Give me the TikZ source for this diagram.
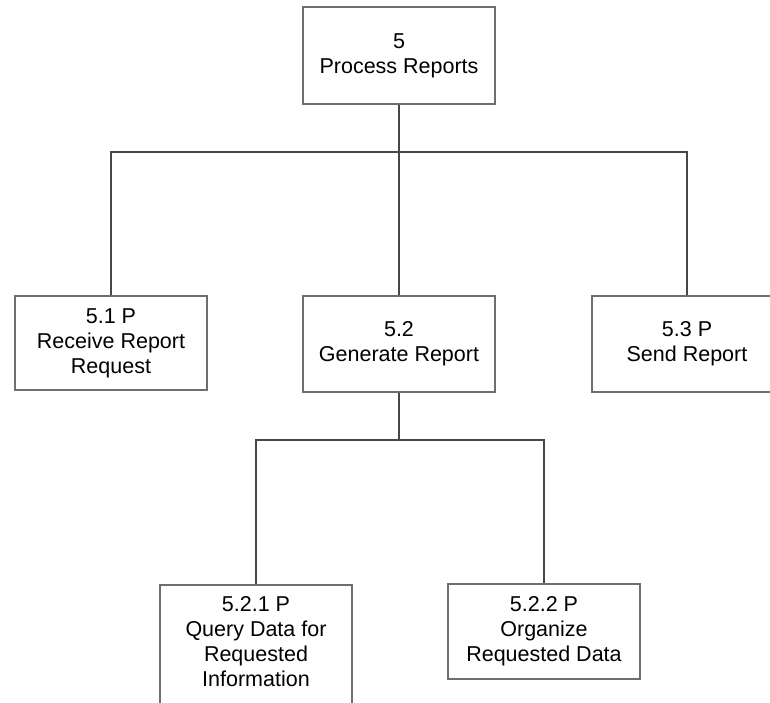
\documentclass[tikz,border=0pt]{standalone}
\usepackage{fontspec}
\setmainfont{Liberation Sans}
\begin{document}
\begin{tikzpicture}[x=1pt,y=-1pt,
  procbox/.style={draw=black!57, line width=2pt, align=center,
    minimum width=192pt, inner sep=0pt,
    font=\fontsize{21.5}{25}\selectfont},
  frameonly/.style={draw=black!57, line width=2pt, inner sep=0pt},
  boxtext/.style={align=center, inner sep=0pt, font=\fontsize{21.5}{25}\selectfont},
  link/.style={draw=black!72, line width=1.6pt}]
\useasboundingbox (0,0) rectangle (770,702);

% level 0
\node[procbox, minimum height=97pt] (p5) at (399,55.5) {5\\Process Reports};

% level 1
\node[procbox, minimum height=94pt] (p51) at (111,343) {5.1 P\\Receive Report\\Request};
\node[procbox, minimum height=96pt] (p52) at (399,344) {5.2\\Generate Report};
\node[frameonly, minimum width=240pt, minimum height=96pt, anchor=west] (p53) at (591,344) {};
\node[boxtext] (p53t) at (687,344) {5.3 P\\Send Report};

% level 2
\node[frameonly, minimum width=192pt, minimum height=130pt, anchor=north] (p521) at (256,584) {};
\node[boxtext] (p521t) at (256,641.5) {5.2.1 P\\Query Data for\\Requested\\Information};
\node[procbox, minimum height=95pt] (p522) at (544,631.5) {5.2.2 P\\Organize\\Requested Data};

% connectors
\coordinate (j1) at (399,152);
\coordinate (j2) at (399,440);
\draw[link] (p5.south) -- (j1);
\draw[link] (j1) -| (p51.north);
\draw[link] (j1) -- (p52.north);
\draw[link] (j1) -| (p53t |- p53.north);
\draw[link] (p52.south) -- (j2);
\draw[link] (j2) -| (p521.north);
\draw[link] (j2) -| (p522.north);
\end{tikzpicture}
\end{document}
